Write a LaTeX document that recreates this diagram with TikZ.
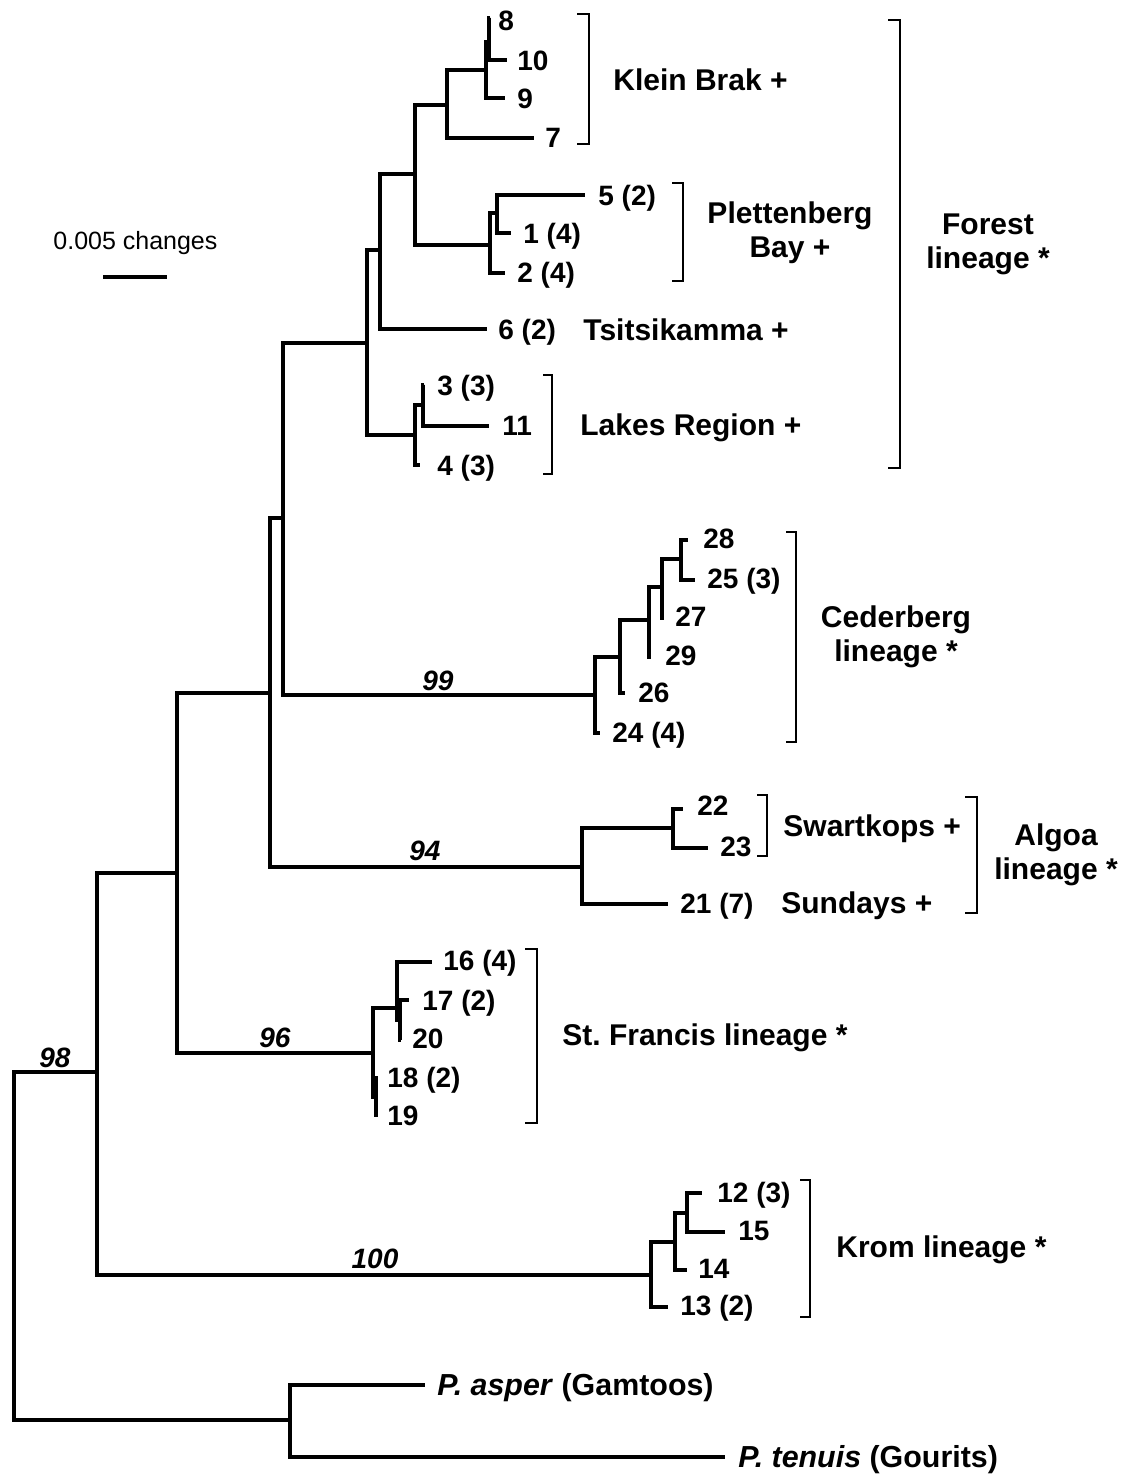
\documentclass[tikz,border=0pt]{standalone}
\usepackage{fontspec}
\setmainfont{Liberation Sans}
\frenchspacing
\begin{document}
\begin{tikzpicture}[x=0.5pt,y=-0.5pt,
  br/.style={line width=2.45pt,line join=miter,line cap=butt},
  brk/.style={line width=1pt,line join=miter},
  tiplab/.style={font=\fontsize{14}{16}\selectfont\bfseries,anchor=west,inner sep=0pt,text height=10pt,text depth=0pt},
  outlab/.style={font=\fontsize{15.2}{17}\selectfont\bfseries,anchor=west,inner sep=0pt,text height=10.9pt,text depth=0pt},
  grp/.style={font=\fontsize{15}{17}\selectfont\bfseries,anchor=west,inner sep=0pt,text height=10.7pt,text depth=0pt},
  grp2/.style={font=\fontsize{15}{17}\selectfont\bfseries,anchor=center,inner sep=0pt,align=center},
  boot/.style={font=\fontsize{14}{16}\selectfont\bfseries\itshape,anchor=center,inner sep=0pt,text height=10pt,text depth=0pt}]
\useasboundingbox (0,0) rectangle (1126,1474);

% ---------- internal nodes ----------
\coordinate (root) at (14,1245);
\coordinate (nA)   at (97,1072);
\coordinate (nOut) at (290,1420);
\coordinate (nB)   at (177,873);
\coordinate (nK1)  at (651,1275);
\coordinate (nC)   at (270,693);
\coordinate (nSF)  at (373,1053);
\coordinate (nD)   at (283,518);
\coordinate (nAl)  at (582,867);
\coordinate (nE)   at (367,343);
\coordinate (nCed) at (595,695);
\coordinate (nF)   at (380,250);
\coordinate (nL)   at (415,435);
\coordinate (nG)   at (415,174);
\coordinate (nKB)  at (447,105);
\coordinate (nH)   at (486,70);
\coordinate (nH2)  at (489,42);
\coordinate (nP)   at (490,245);
\coordinate (nP2)  at (497,213);
\coordinate (nL2)  at (423,405);
\coordinate (nC2)  at (620,657);
\coordinate (nC3)  at (649,620);
\coordinate (nC4)  at (662,587);
\coordinate (nC5)  at (681,559);
\coordinate (nSw)  at (673,828);
\coordinate (nSF2) at (397,1008);
\coordinate (nSF4) at (400,1020);
\coordinate (nSF3) at (376,1097);
\coordinate (nK2)  at (675,1242);
\coordinate (nK3)  at (687,1213);

% ---------- tips ----------
\coordinate (t8)  at (490,18);
\coordinate (t10) at (507,60);
\coordinate (t9)  at (505,98);
\coordinate (t7)  at (534,138);
\coordinate (t5)  at (585,195);
\coordinate (t1)  at (511,233);
\coordinate (t2)  at (505,273);
\coordinate (t6)  at (487,329);
\coordinate (t3)  at (424,385);
\coordinate (t11) at (489,426);
\coordinate (t4)  at (420,465);
\coordinate (t28) at (688,540);
\coordinate (t25) at (695,580);
\coordinate (t27) at (664,618);
\coordinate (t29) at (651,657);
\coordinate (t26) at (625,693);
\coordinate (t24) at (600,733);
\coordinate (t22) at (683,809);
\coordinate (t23) at (708,848);
\coordinate (t21) at (668,904);
\coordinate (t16) at (432,962);
\coordinate (t17) at (409,1000);
\coordinate (t20) at (401,1040);
\coordinate (t18) at (378,1078);
\coordinate (t19) at (378,1115);
\coordinate (t12) at (702,1193);
\coordinate (t15) at (725,1232);
\coordinate (t14) at (687,1270);
\coordinate (t13) at (668,1307);
\coordinate (tAs) at (425,1385);
\coordinate (tTe) at (725,1457);

% ---------- branches ----------
\draw[br] (root) |- (nA);  \draw[br] (root) |- (nOut);
\draw[br] (nOut) |- (tAs); \draw[br] (nOut) |- (tTe);
\draw[br] (nA) |- (nB);    \draw[br] (nA) |- (nK1);
\draw[br] (nB) |- (nC);    \draw[br] (nB) |- (nSF);
\draw[br] (nC) |- (nD);    \draw[br] (nC) |- (nAl);
\draw[br] (nD) |- (nE);    \draw[br] (nD) |- (nCed);
\draw[br] (nE) |- (nF);    \draw[br] (nE) |- (nL);
\draw[br] (nF) |- (nG);    \draw[br] (nF) |- (t6);
\draw[br] (nG) |- (nKB);   \draw[br] (nG) |- (nP);
\draw[br] (nKB) |- (nH);   \draw[br] (nKB) |- (t7);
\draw[br] (nH) |- (nH2);   \draw[br] (nH) |- (t9);
\draw[br] (nH2) |- (t8);   \draw[br] (nH2) |- (t10);
\draw[br] (nP) |- (nP2);   \draw[br] (nP) |- (t2);
\draw[br] (nP2) |- (t5);   \draw[br] (nP2) |- (t1);
\draw[br] (nL) |- (nL2);   \draw[br] (nL) |- (t4);
\draw[br] (nL2) |- (t3);   \draw[br] (nL2) |- (t11);
\draw[br] (nCed) |- (nC2); \draw[br] (nCed) |- (t24);
\draw[br] (nC2) |- (nC3);  \draw[br] (nC2) |- (t26);
\draw[br] (nC3) |- (nC4);  \draw[br] (nC3) |- (t29);
\draw[br] (nC4) |- (nC5);  \draw[br] (nC4) |- (t27);
\draw[br] (nC5) |- (t28);  \draw[br] (nC5) |- (t25);
\draw[br] (nAl) |- (nSw);  \draw[br] (nAl) |- (t21);
\draw[br] (nSw) |- (t22);  \draw[br] (nSw) |- (t23);
\draw[br] (nSF) |- (nSF2); \draw[br] (nSF) |- (nSF3);
\draw[br] (nSF2) |- (t16); \draw[br] (nSF2) |- (nSF4);
\draw[br] (nSF4) |- (t17); \draw[br] (nSF4) |- (t20);
\draw[br] (nSF3) |- (t18); \draw[br] (nSF3) |- (t19);
\draw[br] (nK1) |- (nK2);  \draw[br] (nK1) |- (t13);
\draw[br] (nK2) |- (nK3);  \draw[br] (nK2) |- (t14);
\draw[br] (nK3) |- (t12);  \draw[br] (nK3) |- (t15);

% ---------- tip labels ----------
\node[tiplab] (l8)  at (498,20)  {8};
\node[tiplab] (l10) at (517,60)  {10};
\node[tiplab] (l9)  at (517,98)  {9};
\node[tiplab] (l7)  at (545,137) {7};
\node[tiplab] (l5)  at (598,195) {5 (2)};
\node[tiplab] (l1)  at (523,233) {1 (4)};
\node[tiplab] (l2)  at (517,272) {2 (4)};
\node[tiplab] (l6)  at (498,329) {6 (2)};
\node[tiplab] (l3)  at (437,385) {3 (3)};
\node[tiplab] (l11) at (502,425) {11};
\node[tiplab] (l4)  at (437,465) {4 (3)};
\node[tiplab] (l28) at (703,538) {28};
\node[tiplab] (l25) at (707,578) {25 (3)};
\node[tiplab] (l27) at (675,616) {27};
\node[tiplab] (l29) at (665,655) {29};
\node[tiplab] (l26) at (638,692) {26};
\node[tiplab] (l24) at (612,732) {24 (4)};
\node[tiplab] (l22) at (697,805) {22};
\node[tiplab] (l23) at (720,846) {23};
\node[tiplab] (l21) at (680,903) {21 (7)};
\node[tiplab] (l16) at (443,960) {16 (4)};
\node[tiplab] (l17) at (422,1000) {17 (2)};
\node[tiplab] (l20) at (412,1038) {20};
\node[tiplab] (l18) at (387,1077) {18 (2)};
\node[tiplab] (l19) at (387,1115) {19};
\node[tiplab] (l12) at (717,1192) {12 (3)};
\node[tiplab] (l15) at (738,1230) {15};
\node[tiplab] (l14) at (698,1268) {14};
\node[tiplab] (l13) at (680,1305) {13 (2)};
\node[outlab] (lAs) at (437,1385) {\textit{P. asper} (Gamtoos)};
\node[outlab] (lTe) at (738,1457) {\textit{P. tenuis} (Gourits)};

% ---------- bootstrap values ----------
\node[boot] (b98)  at (55,1057)  {98};
\node[boot] (b96)  at (275,1037) {96};
\node[boot] (b99)  at (438,680)  {99};
\node[boot] (b94)  at (425,850)  {94};
\node[boot] (b100) at (375,1258) {100};

% ---------- brackets ----------
\draw[brk] (577,14) -- (589,14) -- (589,144) -- (577,144);
\draw[brk] (672,183) -- (683,183) -- (683,281) -- (672,281);
\draw[brk] (543,375) -- (552,375) -- (552,474) -- (543,474);
\draw[brk] (888,20) -- (900,20) -- (900,468) -- (888,468);
\draw[brk] (786,532) -- (796,532) -- (796,742) -- (786,742);
\draw[brk] (757,795) -- (767,795) -- (767,856) -- (757,856);
\draw[brk] (965,797) -- (977,797) -- (977,913) -- (965,913);
\draw[brk] (525,949) -- (537,949) -- (537,1123) -- (525,1123);
\draw[brk] (800,1180) -- (810,1180) -- (810,1317) -- (800,1317);

% ---------- group labels ----------
\node[grp] (gKB) at (613,80)   {Klein Brak +};
\node[grp2] (gPB) at (790,233) {Plettenberg\\Bay +};
\node[grp] (gTs) at (583,330)  {Tsitsikamma +};
\node[grp] (gLR) at (580,425)  {Lakes Region +};
\node[grp2] (gFo) at (988,244) {Forest\\lineage *};
\node[grp2] (gCe) at (896,637) {Cederberg\\lineage *};
\node[grp] (gSw) at (783,826)  {Swartkops +};
\node[grp] (gSu) at (781,903)  {Sundays +};
\node[grp2] (gAl) at (1056,855) {Algoa\\lineage *};
\node[grp] (gSF) at (562,1035) {St. Francis lineage *};
\node[grp] (gKr) at (836,1247) {Krom lineage *};

% ---------- scale bar ----------
\node[font=\fontsize{12.5}{14}\selectfont,anchor=west,inner sep=0pt,text height=9pt,text depth=0pt] (scl) at (53,240) {0.005 changes};
\coordinate (sb1) at (103,277);
\coordinate (sb2) at (167,277);
\draw[line width=2.4pt] (sb1) -- (sb2);
\end{tikzpicture}
\end{document}
